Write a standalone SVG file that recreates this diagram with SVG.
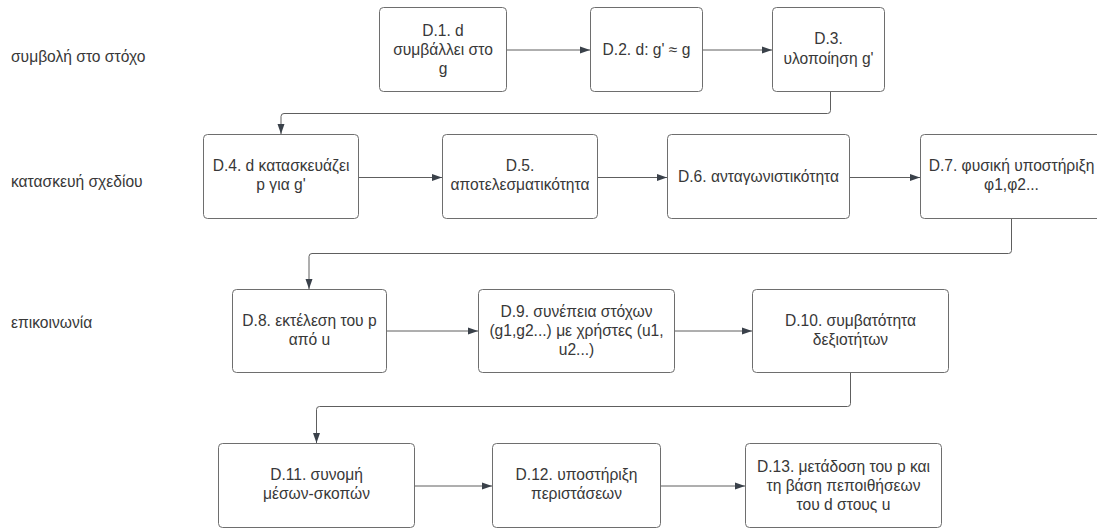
<svg xmlns="http://www.w3.org/2000/svg" width="1097" height="529" viewBox="0 0 1097 529">
  <style>
    .box { fill: #ffffff; stroke: #6e6e6e; stroke-width: 1; }
    .txt { font-family: "Liberation Sans", Arial, sans-serif; font-size: 15.6px; fill: #383838; text-anchor: middle; }
    .lbl { font-family: "Liberation Sans", Arial, sans-serif; font-size: 15.6px; fill: #383838; }
    .edge { fill: none; stroke: #5e5e5e; stroke-width: 1; marker-end: url(#arrow); }
  </style>
  <defs>
    <marker id="arrow" markerWidth="11" markerHeight="8" refX="10" refY="4" orient="auto" markerUnits="userSpaceOnUse">
      <path d="M0,0.5 L10,4 L0,7.5 Z" fill="#3a414a"/>
    </marker>
  </defs>
  <rect width="1097" height="529" fill="#ffffff"/>

  <!-- row labels -->
  <g id="row-labels">
    <text class="lbl" x="11" y="61.5">συμβολή στο στόχο</text>
    <text class="lbl" x="11" y="186.5">κατασκευή σχεδίου</text>
    <text class="lbl" x="11" y="327.5">επικοινωνία</text>
  </g>

  <!-- connectors -->
  <g id="connectors">
    <path class="edge" d="M506.5,50 H590"/>
    <path class="edge" d="M702.5,50 H772"/>
    <path class="edge" d="M830.5,91.5 V110.5 Q830.5,113.5 827.5,113.5 H284 Q281,113.5 281,116.5 V134"/>
    <path class="edge" d="M358.5,177.5 H442"/>
    <path class="edge" d="M597.5,177.5 H667"/>
    <path class="edge" d="M849.5,177.5 H920"/>
    <path class="edge" d="M1011.5,218.5 V250.5 Q1011.5,253.5 1008.5,253.5 H312 Q309,253.5 309,256.5 V289"/>
    <path class="edge" d="M386.5,331 H478"/>
    <path class="edge" d="M674.5,331 H752"/>
    <path class="edge" d="M850.5,372.5 V403.5 Q850.5,406.5 847.5,406.5 H319.5 Q316.5,406.5 316.5,409.5 V443"/>
    <path class="edge" d="M414.5,486 H492"/>
    <path class="edge" d="M660.5,486 H745"/>
  </g>

  <!-- row 1 -->
  <g id="D1">
    <rect class="box" x="379.5" y="7.5" width="127" height="84" rx="4"/>
    <text class="txt" x="443" y="35.5">D.1. d</text>
    <text class="txt" x="443" y="54.5">συμβάλλει στο</text>
    <text class="txt" x="443" y="73.5">g</text>
  </g>
  <g id="D2">
    <rect class="box" x="590.5" y="7.5" width="112" height="84" rx="4"/>
    <text class="txt" x="646.5" y="55">D.2. d: g' ≈ g</text>
  </g>
  <g id="D3">
    <rect class="box" x="772.5" y="7.5" width="112" height="84" rx="4"/>
    <text class="txt" x="828.5" y="44">D.3.</text>
    <text class="txt" x="828.5" y="63.5">υλοποίηση g'</text>
  </g>

  <!-- row 2 -->
  <g id="D4">
    <rect class="box" x="203.5" y="134.5" width="155" height="84" rx="4"/>
    <text class="txt" x="281" y="171">D.4. d κατασκευάζει</text>
    <text class="txt" x="281" y="190">p για g'</text>
  </g>
  <g id="D5">
    <rect class="box" x="442.5" y="134.5" width="155" height="84" rx="4"/>
    <text class="txt" x="520" y="171">D.5.</text>
    <text class="txt" x="520" y="190">αποτελεσματικότητα</text>
  </g>
  <g id="D6">
    <rect class="box" x="667.5" y="134.5" width="182" height="84" rx="4"/>
    <text class="txt" x="758.5" y="182">D.6. ανταγωνιστικότητα</text>
  </g>
  <g id="D7">
    <rect class="box" x="920.5" y="134.5" width="182" height="84" rx="4"/>
    <text class="txt" x="1011.5" y="171">D.7. φυσική υποστήριξη</text>
    <text class="txt" x="1011.5" y="190">φ1,φ2...</text>
  </g>

  <!-- row 3 -->
  <g id="D8">
    <rect class="box" x="232.5" y="289.5" width="154" height="83" rx="4"/>
    <text class="txt" x="309.5" y="325.5">D.8. εκτέλεση του p</text>
    <text class="txt" x="309.5" y="344.5">από u</text>
  </g>
  <g id="D9">
    <rect class="box" x="478.5" y="289.5" width="196" height="83" rx="4"/>
    <text class="txt" x="576.5" y="317">D.9. συνέπεια στόχων</text>
    <text class="txt" x="576.5" y="336">(g1,g2...) με χρήστες (u1,</text>
    <text class="txt" x="576.5" y="355">u2...)</text>
  </g>
  <g id="D10">
    <rect class="box" x="752.5" y="289.5" width="196" height="83" rx="4"/>
    <text class="txt" x="850.5" y="325.5">D.10. συμβατότητα</text>
    <text class="txt" x="850.5" y="344.5">δεξιοτήτων</text>
  </g>

  <!-- row 4 -->
  <g id="D11">
    <rect class="box" x="218.5" y="443.5" width="196" height="84" rx="4"/>
    <text class="txt" x="316.5" y="480">D.11. συνομή</text>
    <text class="txt" x="316.5" y="499">μέσων-σκοπών</text>
  </g>
  <g id="D12">
    <rect class="box" x="492.5" y="443.5" width="168" height="84" rx="4"/>
    <text class="txt" x="576.5" y="480">D.12. υποστήριξη</text>
    <text class="txt" x="576.5" y="499">περιστάσεων</text>
  </g>
  <g id="D13">
    <rect class="box" x="745.5" y="443.5" width="196" height="84" rx="4"/>
    <text class="txt" x="843.5" y="471.5">D.13. μετάδοση του p και</text>
    <text class="txt" x="843.5" y="490.5">τη βάση πεποιθήσεων</text>
    <text class="txt" x="843.5" y="509.5">του d στους u</text>
  </g>
</svg>
